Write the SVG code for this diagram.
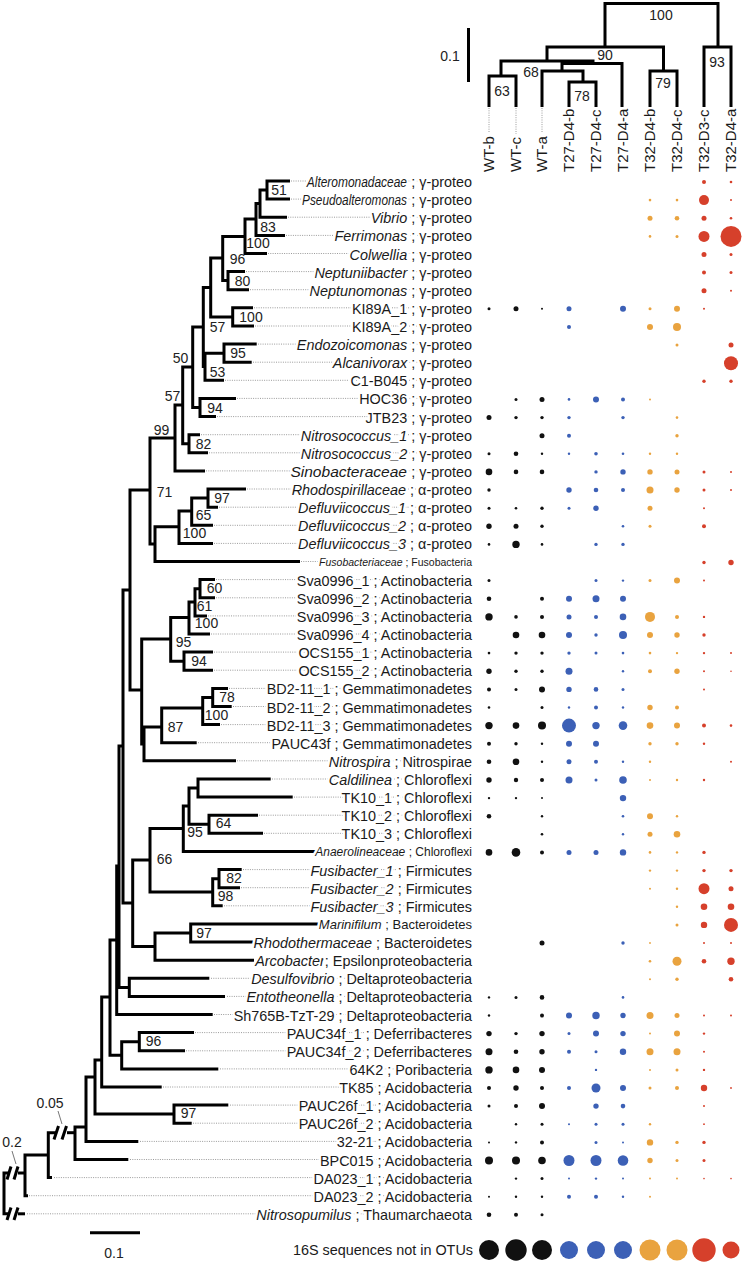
<svg xmlns="http://www.w3.org/2000/svg" width="743" height="1265" viewBox="0 0 743 1265">
<style>
.t{fill:none;stroke:#000;stroke-width:3;stroke-linejoin:miter}
.d{stroke:#9a9a9a;stroke-width:1;stroke-dasharray:1 1.3}
.g{stroke:#777;stroke-width:1}
.lb{font-family:"Liberation Sans",Arial,sans-serif;font-size:14.4px;fill:#1a1a1a;text-anchor:end;stroke:#fff;stroke-width:5;stroke-linejoin:round;paint-order:stroke}
.sm{font-size:12px}
.md{font-size:13px}
.xs{font-size:10.5px}
.i{font-style:italic}
.bs{font-family:"Liberation Sans",Arial,sans-serif;font-size:14px;fill:#222;text-anchor:middle}
.sl{font-family:"Liberation Sans",Arial,sans-serif;font-size:15px;fill:#1a1a1a}
.k{fill:#111}.b{fill:#3c60b6}.o{fill:#e9a33f}.r{fill:#d6402b}
</style>
<rect width="743" height="1265" fill="#fff"/>

<g id="sample-tree">
<path class="t" d="M605,47 V3.5 H718 V47"/>
<path class="t" d="M547,61 V47 H663.5 V71"/>
<path class="t" d="M704,107 V47 H731 V107"/>
<path class="t" d="M650,107 V71 H677 V107"/>
<path class="t" d="M501,76 V61 H593 V63.5"/>
<path class="t" d="M489,107 V76 H516 V107"/>
<path class="t" d="M562,71 V63.5 H622 V107"/>
<path class="t" d="M542,107 V71 H583 V82"/>
<path class="t" d="M569,107 V82 H596 V107"/>
<line class="d" x1="489" y1="108" x2="489" y2="133"/>
<line class="d" x1="516" y1="108" x2="516" y2="134"/>
<line class="d" x1="542" y1="108" x2="542" y2="133"/>
<text class="bs" x="661" y="20">100</text>
<text class="bs" x="605" y="60">90</text>
<text class="bs" x="717" y="67">93</text>
<text class="bs" x="663" y="88">79</text>
<text class="bs" x="502" y="96">63</text>
<text class="bs" x="531" y="77">68</text>
<text class="bs" x="582" y="101">78</text>
<line class="t" x1="468.5" y1="28" x2="468.5" y2="82"/>
<text class="bs" x="450" y="61">0.1</text>
</g>
<g id="samples">
<text class="sl" transform="translate(494,172) rotate(-90)">WT-b</text>
<text class="sl" transform="translate(521,172) rotate(-90)">WT-c</text>
<text class="sl" transform="translate(547,172) rotate(-90)">WT-a</text>
<text class="sl" transform="translate(574,172) rotate(-90)">T27-D4-b</text>
<text class="sl" transform="translate(601,172) rotate(-90)">T27-D4-c</text>
<text class="sl" transform="translate(628,172) rotate(-90)">T27-D4-a</text>
<text class="sl" transform="translate(655,172) rotate(-90)">T32-D4-b</text>
<text class="sl" transform="translate(682,172) rotate(-90)">T32-D4-c</text>
<text class="sl" transform="translate(709,172) rotate(-90)">T32-D3-c</text>
<text class="sl" transform="translate(736,172) rotate(-90)">T32-D4-a</text>
</g>

<g id="connectors">
<path class="t" d="M290,181 H267 V199.1 H290"/>
<path class="t" d="M267,190 H260 V217.2 H287"/>
<path class="t" d="M260,203.5 H256 V235.4 H285"/>
<path class="t" d="M256,219 H245 V253.5 H267"/>
<path class="t" d="M245,236.5 H222.7 V280.6 H228"/>
<path class="t" d="M245,271.6 H228 V289.7 H249"/>
<path class="t" d="M222.7,258 H210.7 V317 H232.7"/>
<path class="t" d="M253,307.8 H232.7 V326 H254"/>
<path class="t" d="M210.7,287.5 H203.3 V366.5 H205"/>
<path class="t" d="M224,353.2 H205 V380.3 H224"/>
<path class="t" d="M256.7,344.1 H224 V362.2 H251.7"/>
<path class="t" d="M203.3,327 H192.7 V407.5 H200"/>
<path class="t" d="M236,398.4 H200 V416.6 H216"/>
<path class="t" d="M192.7,367 H182.7 V443.8 H189"/>
<path class="t" d="M200,434.7 H189 V452.8 H208"/>
<path class="t" d="M182.7,405 H175 V470.9 H205"/>
<path class="t" d="M175,438 H150 V544 H155"/>
<path class="t" d="M179,526.7 H155 V561.5 H300"/>
<path class="t" d="M191.7,511 H179 V543.4 H213"/>
<path class="t" d="M208,498 H191.7 V525.3 H213"/>
<path class="t" d="M246,489 H208 V507.2 H218"/>
<path class="t" d="M150,490 H130 V690 H141.7"/>
<path class="t" d="M170.7,639 H141.7 V744 H144"/>
<path class="t" d="M189,617.5 H170.7 V661.2 H184"/>
<path class="t" d="M195,602 H189 V634 H210"/>
<path class="t" d="M200,588.7 H195 V615.9 H207"/>
<path class="t" d="M215,579.6 H200 V597.8 H215"/>
<path class="t" d="M213,652.1 H184 V670.2 H213"/>
<path class="t" d="M161.7,727 H144 V760.8 H236"/>
<path class="t" d="M202.7,708 H161.7 V742.7 H196.7"/>
<path class="t" d="M212.7,697.5 H202.7 V724.6 H220"/>
<path class="t" d="M228,688.4 H212.7 V706.5 H231.7"/>
<path class="t" d="M183.3,828.5 H150 V892 H212.7"/>
<path class="t" d="M189,806 H183.3 V851.4 H318"/>
<path class="t" d="M198,788 H189 V824.3 H209"/>
<path class="t" d="M270.7,779 H198 V797.1 H292.7"/>
<path class="t" d="M258,815.2 H209 V833.3 H263"/>
<path class="t" d="M219,878.7 H212.7 V905.8 H222.7"/>
<path class="t" d="M241.7,869.6 H219 V887.7 H240"/>
<path class="t" d="M190.7,933 H155 V960.2 H254"/>
<path class="t" d="M334,923.9 H190.7 V942 H254"/>
<path class="t" d="M150,860 H132.7 V946.6 H155"/>
<path class="t" d="M130,590 H123 V903 H132.7"/>
<path class="t" d="M123,746 H119 V987.4 H129.3"/>
<path class="t" d="M209.3,978.3 H129.3 V996.4 H225"/>
<path class="t" d="M119,866 H116.7 V1014.5 H212.7"/>
<path class="t" d="M116.7,940 H110 V1055.3 H121.7"/>
<path class="t" d="M194,1032.6 H139.3 V1050.8 H185"/>
<path class="t" d="M139.3,1041.7 H121.7 V1068.9 H218.3"/>
<path class="t" d="M110,997 H101.7 V1087 H161.7"/>
<path class="t" d="M228.3,1105.1 H174 V1123.2 H191.7"/>
<path class="t" d="M101.7,1060 H95 V1114 H174"/>
<path class="t" d="M95,1077 H86 V1141.4 H138.3"/>
<path class="t" d="M86,1127 H75 V1159.5 H128.3"/>
<path class="t" d="M75,1132.7 H67"/>
<path class="t" d="M56,1132.7 H48.3 V1177.6 H52"/>
<path class="t" d="M54,1139.5 L58.5,1126"/>
<path class="t" d="M62,1139.5 L66.5,1126"/>
<path class="t" d="M48.3,1155 H25 V1195.7 H28"/>
<path class="t" d="M25,1173 H18"/>
<path class="t" d="M8,1173 H4 V1213.8 H8"/>
<path class="t" d="M18,1213.8 H25"/>
<path class="t" d="M7,1179.5 L11,1166.5"/>
<path class="t" d="M14,1179.5 L18,1166.5"/>
<path class="t" d="M7,1220 L11,1207.5"/>
<path class="t" d="M14,1220 L18,1207.5"/>
<line class="g" x1="58" y1="1111" x2="62" y2="1124"/>
<line class="g" x1="12" y1="1151" x2="16" y2="1164"/>
<text class="bs" x="50" y="1108">0.05</text>
<text class="bs" x="12" y="1147">0.2</text>
<line class="t" x1="90" y1="1232.7" x2="140" y2="1232.7"/>
<text class="bs" x="114" y="1258">0.1</text>
</g>

<g id="bootstrap">
<text class="bs" x="279" y="195">51</text>
<text class="bs" x="268" y="232">83</text>
<text class="bs" x="258" y="248">100</text>
<text class="bs" x="237.5" y="264">96</text>
<text class="bs" x="242.5" y="286">80</text>
<text class="bs" x="251" y="322">100</text>
<text class="bs" x="217.5" y="332">57</text>
<text class="bs" x="238" y="358">95</text>
<text class="bs" x="217.5" y="377">53</text>
<text class="bs" x="180.5" y="363">50</text>
<text class="bs" x="215" y="413">94</text>
<text class="bs" x="172.5" y="401">57</text>
<text class="bs" x="203.5" y="449">82</text>
<text class="bs" x="161.5" y="435">99</text>
<text class="bs" x="164.5" y="497">71</text>
<text class="bs" x="222" y="503">97</text>
<text class="bs" x="203.5" y="520">65</text>
<text class="bs" x="194.5" y="538">100</text>
<text class="bs" x="214.5" y="593">60</text>
<text class="bs" x="204.5" y="611">61</text>
<text class="bs" x="206.5" y="628">100</text>
<text class="bs" x="183.5" y="647">95</text>
<text class="bs" x="199" y="666">94</text>
<text class="bs" x="227" y="702">78</text>
<text class="bs" x="216.5" y="720">100</text>
<text class="bs" x="175.5" y="732">87</text>
<text class="bs" x="223.5" y="828">64</text>
<text class="bs" x="195" y="837">95</text>
<text class="bs" x="164.5" y="864">66</text>
<text class="bs" x="234" y="883">82</text>
<text class="bs" x="225.5" y="901">98</text>
<text class="bs" x="204" y="938">97</text>
<text class="bs" x="153.5" y="1046">96</text>
<text class="bs" x="188.5" y="1118">97</text>
</g>

<g id="n0" transform="translate(0,182)"><line class="d" x1="291" x2="470" y1="-1" y2="-1"/><text class="lb i" transform="translate(407,5) scale(0.83,1)">Alteromonadaceae</text><text class="lb" x="472" y="5">; γ-proteo</text><circle class="r" cx="704" r="2"/><circle class="r" cx="731" r="1.3"/></g>
<g id="n1" transform="translate(0,200.1)"><line class="d" x1="291" x2="470" y1="-1" y2="-1"/><text class="lb i" transform="translate(407,5) scale(0.82,1)">Pseudoalteromonas</text><text class="lb" x="472" y="5">; γ-proteo</text><circle class="o" cx="650" r="1.3"/><circle class="o" cx="677" r="1.3"/><circle class="r" cx="704" r="5"/><circle class="r" cx="731" r="1"/></g>
<g id="n2" transform="translate(0,218.2)"><line class="d" x1="288" x2="470" y1="-1" y2="-1"/><text class="lb" x="472" y="5"><tspan class="i">Vibrio</tspan> ; γ-proteo</text><circle class="o" cx="650" r="2.5"/><circle class="o" cx="677" r="2.3"/><circle class="r" cx="704" r="2.5"/><circle class="r" cx="731" r="1.3"/></g>
<g id="n3" transform="translate(0,236.4)"><line class="d" x1="286" x2="470" y1="-1" y2="-1"/><text class="lb" x="472" y="5"><tspan class="i">Ferrimonas</tspan> ; γ-proteo</text><circle class="o" cx="650" r="1.3"/><circle class="o" cx="677" r="1.5"/><circle class="r" cx="704" r="5.5"/><circle class="r" cx="731" r="10.5"/></g>
<g id="n4" transform="translate(0,254.5)"><line class="d" x1="268" x2="470" y1="-1" y2="-1"/><text class="lb" x="472" y="5"><tspan class="i">Colwellia</tspan> ; γ-proteo</text><circle class="r" cx="704" r="2.5"/><circle class="r" cx="731" r="1.5"/></g>
<g id="n5" transform="translate(0,272.6)"><line class="d" x1="246" x2="470" y1="-1" y2="-1"/><text class="lb" x="472" y="5"><tspan class="i">Neptuniibacter</tspan> ; γ-proteo</text><circle class="r" cx="704" r="2"/><circle class="r" cx="731" r="1.5"/></g>
<g id="n6" transform="translate(0,290.7)"><line class="d" x1="250" x2="470" y1="-1" y2="-1"/><text class="lb" x="472" y="5"><tspan class="i">Neptunomonas</tspan> ; γ-proteo</text><circle class="r" cx="704" r="2.5"/><circle class="r" cx="731" r="1"/></g>
<g id="n7" transform="translate(0,308.8)"><line class="d" x1="254" x2="470" y1="-1" y2="-1"/><text class="lb" x="472" y="5">KI89A_1 ; γ-proteo</text><circle class="k" cx="489" r="1.5"/><circle class="k" cx="516" r="2.5"/><circle class="k" cx="542" r="1"/><circle class="b" cx="569" r="2.5"/><circle class="b" cx="623" r="3"/><circle class="o" cx="650" r="1.5"/><circle class="o" cx="677" r="3"/><circle class="r" cx="704" r="1"/></g>
<g id="n8" transform="translate(0,327)"><line class="d" x1="255" x2="470" y1="-1" y2="-1"/><text class="lb" x="472" y="5">KI89A_2 ; γ-proteo</text><circle class="b" cx="569" r="2"/><circle class="o" cx="650" r="3"/><circle class="o" cx="677" r="4"/></g>
<g id="n9" transform="translate(0,345.1)"><line class="d" x1="258" x2="470" y1="-1" y2="-1"/><text class="lb" x="472" y="5"><tspan class="i">Endozoicomonas</tspan> ; γ-proteo</text><circle class="o" cx="677" r="1.5"/><circle class="r" cx="731" r="2.5"/></g>
<g id="n10" transform="translate(0,363.2)"><line class="d" x1="253" x2="470" y1="-1" y2="-1"/><text class="lb" x="472" y="5"><tspan class="i">Alcanivorax</tspan> ; γ-proteo</text><circle class="r" cx="731" r="7"/></g>
<g id="n11" transform="translate(0,381.3)"><line class="d" x1="225" x2="470" y1="-1" y2="-1"/><text class="lb" x="472" y="5">C1-B045 ; γ-proteo</text><circle class="r" cx="704" r="1.7"/><circle class="r" cx="731" r="1.7"/></g>
<g id="n12" transform="translate(0,399.4)"><line class="d" x1="237" x2="470" y1="-1" y2="-1"/><text class="lb" x="472" y="5">HOC36 ; γ-proteo</text><circle class="k" cx="516" r="1.5"/><circle class="k" cx="542" r="2.5"/><circle class="b" cx="569" r="1.3"/><circle class="b" cx="596" r="3"/><circle class="b" cx="623" r="2"/><circle class="o" cx="650" r="1"/></g>
<g id="n13" transform="translate(0,417.6)"><line class="d" x1="217" x2="470" y1="-1" y2="-1"/><text class="lb" x="472" y="5">JTB23 ; γ-proteo</text><circle class="k" cx="489" r="2.5"/><circle class="k" cx="516" r="1.7"/><circle class="k" cx="542" r="1.7"/><circle class="b" cx="569" r="1.7"/><circle class="b" cx="623" r="1.7"/><circle class="o" cx="677" r="1.3"/></g>
<g id="n14" transform="translate(0,435.7)"><line class="d" x1="201" x2="470" y1="-1" y2="-1"/><text class="lb" x="472" y="5"><tspan class="i">Nitrosococcus_1</tspan> ; γ-proteo</text><circle class="k" cx="542" r="2.5"/><circle class="b" cx="569" r="2"/><circle class="o" cx="677" r="1.7"/></g>
<g id="n15" transform="translate(0,453.8)"><line class="d" x1="209" x2="470" y1="-1" y2="-1"/><text class="lb" x="472" y="5"><tspan class="i">Nitrosococcus_2</tspan> ; γ-proteo</text><circle class="k" cx="489" r="1.5"/><circle class="k" cx="516" r="2.3"/><circle class="k" cx="542" r="1.2"/><circle class="b" cx="569" r="1.2"/><circle class="b" cx="596" r="1.8"/><circle class="b" cx="623" r="1.3"/><circle class="o" cx="650" r="1.2"/><circle class="o" cx="677" r="1.2"/></g>
<g id="n16" transform="translate(0,471.9)"><line class="d" x1="206" x2="470" y1="-1" y2="-1"/><text class="lb i" transform="translate(407,5) scale(1.08,1)">Sinobacteraceae</text><text class="lb" x="472" y="5">; γ-proteo</text><circle class="k" cx="489" r="3.3"/><circle class="k" cx="516" r="2.3"/><circle class="k" cx="542" r="2.3"/><circle class="b" cx="596" r="1.7"/><circle class="b" cx="623" r="2.7"/><circle class="o" cx="650" r="2.7"/><circle class="o" cx="677" r="2.5"/><circle class="r" cx="704" r="1.5"/><circle class="r" cx="731" r="1"/></g>
<g id="n17" transform="translate(0,490)"><line class="d" x1="247" x2="470" y1="-1" y2="-1"/><text class="lb" x="472" y="5"><tspan class="i">Rhodospirillaceae</tspan> ; α-proteo</text><circle class="k" cx="489" r="1.7"/><circle class="b" cx="569" r="2.7"/><circle class="b" cx="596" r="2.3"/><circle class="b" cx="623" r="2"/><circle class="o" cx="650" r="3.5"/><circle class="o" cx="677" r="2.7"/><circle class="r" cx="704" r="1.5"/><circle class="r" cx="731" r="1"/></g>
<g id="n18" transform="translate(0,508.2)"><line class="d" x1="219" x2="470" y1="-1" y2="-1"/><text class="lb" x="472" y="5"><tspan class="i">Defluviicoccus_1</tspan> ; α-proteo</text><circle class="k" cx="489" r="1.5"/><circle class="k" cx="516" r="1.3"/><circle class="k" cx="542" r="1.7"/><circle class="b" cx="569" r="1.5"/><circle class="b" cx="596" r="2.7"/><circle class="o" cx="650" r="2.5"/><circle class="r" cx="704" r="1"/></g>
<g id="n19" transform="translate(0,526.3)"><line class="d" x1="214" x2="470" y1="-1" y2="-1"/><text class="lb" x="472" y="5"><tspan class="i">Defluviicoccus_2</tspan> ; α-proteo</text><circle class="k" cx="489" r="2.7"/><circle class="k" cx="516" r="2.5"/><circle class="k" cx="542" r="1.7"/><circle class="b" cx="623" r="1.3"/><circle class="o" cx="650" r="1.5"/><circle class="r" cx="704" r="2"/></g>
<g id="n20" transform="translate(0,544.4)"><line class="d" x1="214" x2="470" y1="-1" y2="-1"/><text class="lb" x="472" y="5"><tspan class="i">Defluviicoccus_3</tspan> ; α-proteo</text><circle class="k" cx="489" r="1.3"/><circle class="k" cx="516" r="3.7"/><circle class="k" cx="542" r="1.3"/><circle class="b" cx="596" r="1.7"/><circle class="b" cx="623" r="1.7"/></g>
<g id="n21" transform="translate(0,562.5)"><line class="d" x1="301" x2="470" y1="-1" y2="-1"/><text class="lb xs" x="472" y="3.5"><tspan class="i">Fusobacteriaceae</tspan> ; Fusobacteria</text><circle class="r" cx="704" r="1.7"/><circle class="r" cx="731" r="2.7"/></g>
<g id="n22" transform="translate(0,580.6)"><line class="d" x1="216" x2="470" y1="-1" y2="-1"/><text class="lb" x="472" y="5">Sva0996_1 ; Actinobacteria</text><circle class="k" cx="489" r="1.5"/><circle class="b" cx="596" r="1.5"/><circle class="b" cx="623" r="1.2"/><circle class="o" cx="650" r="1.5"/><circle class="o" cx="677" r="3"/><circle class="r" cx="704" r="1"/></g>
<g id="n23" transform="translate(0,598.8)"><line class="d" x1="216" x2="470" y1="-1" y2="-1"/><text class="lb" x="472" y="5">Sva0996_2 ; Actinobacteria</text><circle class="k" cx="489" r="2.3"/><circle class="k" cx="542" r="2"/><circle class="b" cx="569" r="3"/><circle class="b" cx="596" r="3.5"/><circle class="b" cx="623" r="3"/></g>
<g id="n24" transform="translate(0,616.9)"><line class="d" x1="208" x2="470" y1="-1" y2="-1"/><text class="lb" x="472" y="5">Sva0996_3 ; Actinobacteria</text><circle class="k" cx="489" r="3.7"/><circle class="k" cx="516" r="1.8"/><circle class="k" cx="542" r="2"/><circle class="b" cx="569" r="2.5"/><circle class="b" cx="596" r="2"/><circle class="b" cx="623" r="3.3"/><circle class="o" cx="650" r="5"/><circle class="o" cx="677" r="2"/><circle class="r" cx="704" r="1.2"/></g>
<g id="n25" transform="translate(0,635)"><line class="d" x1="211" x2="470" y1="-1" y2="-1"/><text class="lb" x="472" y="5">Sva0996_4 ; Actinobacteria</text><circle class="k" cx="516" r="3.3"/><circle class="k" cx="542" r="3.3"/><circle class="b" cx="569" r="3"/><circle class="b" cx="596" r="1.7"/><circle class="b" cx="623" r="4"/><circle class="o" cx="650" r="3"/><circle class="o" cx="677" r="2.7"/><circle class="r" cx="704" r="1.7"/></g>
<g id="n26" transform="translate(0,653.1)"><line class="d" x1="214" x2="470" y1="-1" y2="-1"/><text class="lb" x="472" y="5">OCS155_1 ; Actinobacteria</text><circle class="k" cx="489" r="1.3"/><circle class="k" cx="516" r="1.7"/><circle class="k" cx="542" r="1.7"/><circle class="b" cx="569" r="1.7"/><circle class="b" cx="596" r="1.5"/><circle class="b" cx="623" r="1.3"/><circle class="o" cx="650" r="1.3"/><circle class="o" cx="677" r="1.2"/><circle class="r" cx="704" r="1.2"/><circle class="r" cx="731" r="1"/></g>
<g id="n27" transform="translate(0,671.2)"><line class="d" x1="214" x2="470" y1="-1" y2="-1"/><text class="lb" x="472" y="5">OCS155_2 ; Actinobacteria</text><circle class="k" cx="489" r="2.7"/><circle class="k" cx="516" r="1.7"/><circle class="k" cx="542" r="1.7"/><circle class="b" cx="569" r="3.5"/><circle class="b" cx="623" r="1.2"/><circle class="o" cx="650" r="2"/><circle class="o" cx="677" r="2.7"/><circle class="r" cx="704" r="1"/><circle class="r" cx="731" r="0.8"/></g>
<g id="n28" transform="translate(0,689.4)"><line class="d" x1="229" x2="470" y1="-1" y2="-1"/><text class="lb" x="472" y="5">BD2-11_1 ; Gemmatimonadetes</text><circle class="k" cx="489" r="2"/><circle class="k" cx="516" r="1.5"/><circle class="k" cx="542" r="3"/><circle class="b" cx="569" r="2.7"/><circle class="b" cx="596" r="2.3"/><circle class="b" cx="623" r="1.5"/><circle class="r" cx="704" r="1"/></g>
<g id="n29" transform="translate(0,707.5)"><line class="d" x1="233" x2="470" y1="-1" y2="-1"/><text class="lb" x="472" y="5">BD2-11_2 ; Gemmatimonadetes</text><circle class="k" cx="489" r="1.3"/><circle class="k" cx="542" r="1.5"/><circle class="b" cx="569" r="1.2"/><circle class="b" cx="596" r="2"/><circle class="b" cx="623" r="1.2"/><circle class="o" cx="650" r="2.7"/><circle class="o" cx="677" r="2"/></g>
<g id="n30" transform="translate(0,725.6)"><line class="d" x1="221" x2="470" y1="-1" y2="-1"/><text class="lb" x="472" y="5">BD2-11_3 ; Gemmatimonadetes</text><circle class="k" cx="489" r="3.7"/><circle class="k" cx="516" r="3.3"/><circle class="k" cx="542" r="4"/><circle class="b" cx="569" r="7"/><circle class="b" cx="596" r="3.7"/><circle class="b" cx="623" r="4.3"/><circle class="o" cx="650" r="3.3"/><circle class="o" cx="677" r="3"/><circle class="r" cx="704" r="2"/><circle class="r" cx="731" r="1.3"/></g>
<g id="n31" transform="translate(0,743.7)"><line class="d" x1="198" x2="470" y1="-1" y2="-1"/><text class="lb" x="472" y="5">PAUC43f ; Gemmatimonadetes</text><circle class="k" cx="489" r="2"/><circle class="k" cx="516" r="1.7"/><circle class="k" cx="542" r="1.2"/><circle class="b" cx="569" r="3"/><circle class="b" cx="596" r="3"/><circle class="o" cx="650" r="1.7"/><circle class="o" cx="677" r="1.7"/><circle class="r" cx="704" r="1.2"/></g>
<g id="n32" transform="translate(0,761.8)"><line class="d" x1="237" x2="470" y1="-1" y2="-1"/><text class="lb" x="472" y="5"><tspan class="i">Nitrospira</tspan> ; Nitrospirae</text><circle class="k" cx="489" r="2.3"/><circle class="k" cx="516" r="3.3"/><circle class="k" cx="542" r="1.2"/><circle class="b" cx="569" r="2.5"/><circle class="b" cx="596" r="2"/><circle class="b" cx="623" r="1.2"/><circle class="o" cx="650" r="1.2"/><circle class="r" cx="731" r="1"/></g>
<g id="n33" transform="translate(0,780)"><line class="d" x1="272" x2="470" y1="-1" y2="-1"/><text class="lb" x="472" y="5"><tspan class="i">Caldilinea</tspan> ; Chloroflexi</text><circle class="k" cx="489" r="2.7"/><circle class="k" cx="516" r="2.2"/><circle class="k" cx="542" r="2"/><circle class="b" cx="569" r="3.5"/><circle class="b" cx="596" r="1.5"/><circle class="b" cx="623" r="3.8"/><circle class="o" cx="650" r="1"/><circle class="o" cx="677" r="1.2"/><circle class="r" cx="704" r="1.2"/></g>
<g id="n34" transform="translate(0,798.1)"><line class="d" x1="294" x2="470" y1="-1" y2="-1"/><text class="lb" x="472" y="5">TK10_1 ; Chloroflexi</text><circle class="k" cx="489" r="1.2"/><circle class="k" cx="516" r="1.2"/><circle class="k" cx="542" r="1"/><circle class="b" cx="623" r="3.2"/></g>
<g id="n35" transform="translate(0,816.2)"><line class="d" x1="259" x2="470" y1="-1" y2="-1"/><text class="lb" x="472" y="5">TK10_2 ; Chloroflexi</text><circle class="k" cx="489" r="2.3"/><circle class="k" cx="542" r="1.2"/><circle class="b" cx="623" r="1.3"/><circle class="o" cx="650" r="3"/><circle class="o" cx="677" r="1.2"/></g>
<g id="n36" transform="translate(0,834.3)"><line class="d" x1="264" x2="470" y1="-1" y2="-1"/><text class="lb" x="472" y="5">TK10_3 ; Chloroflexi</text><circle class="k" cx="542" r="1.3"/><circle class="b" cx="623" r="1.2"/><circle class="o" cx="650" r="2.5"/><circle class="o" cx="677" r="3.3"/></g>
<g id="n37" transform="translate(0,852.4)"><text class="lb sm" x="472" y="4"><tspan class="i">Anaerolineaceae</tspan> ; Chloroflexi</text><circle class="k" cx="489" r="3.3"/><circle class="k" cx="516" r="4.3"/><circle class="k" cx="542" r="2"/><circle class="b" cx="569" r="2.5"/><circle class="b" cx="596" r="2.5"/><circle class="b" cx="623" r="3.2"/><circle class="o" cx="650" r="1.3"/><circle class="o" cx="677" r="1.2"/><circle class="r" cx="704" r="1.7"/></g>
<g id="n38" transform="translate(0,870.6)"><line class="d" x1="243" x2="470" y1="-1" y2="-1"/><text class="lb" x="472" y="5"><tspan class="i">Fusibacter_1</tspan> ; Firmicutes</text><circle class="o" cx="650" r="1.2"/><circle class="o" cx="677" r="1.2"/><circle class="r" cx="704" r="1.7"/><circle class="r" cx="731" r="1.7"/></g>
<g id="n39" transform="translate(0,888.7)"><line class="d" x1="241" x2="470" y1="-1" y2="-1"/><text class="lb" x="472" y="5"><tspan class="i">Fusibacter_2</tspan> ; Firmicutes</text><circle class="o" cx="650" r="1"/><circle class="o" cx="677" r="1.2"/><circle class="r" cx="704" r="5.5"/><circle class="r" cx="731" r="2.5"/></g>
<g id="n40" transform="translate(0,906.8)"><line class="d" x1="224" x2="470" y1="-1" y2="-1"/><text class="lb" x="472" y="5"><tspan class="i">Fusibacter_3</tspan> ; Firmicutes</text><circle class="o" cx="677" r="1.2"/><circle class="r" cx="704" r="3.3"/><circle class="r" cx="731" r="3.3"/></g>
<g id="n41" transform="translate(0,924.9)"><text class="lb md" x="472" y="4.5"><tspan class="i">Marinifilum</tspan> ; Bacteroidetes</text><circle class="o" cx="677" r="1.5"/><circle class="r" cx="704" r="3.2"/><circle class="r" cx="731" r="7"/></g>
<g id="n42" transform="translate(0,943)"><text class="lb" x="472" y="5"><tspan class="i">Rhodothermaceae</tspan> ; Bacteroidetes</text><circle class="k" cx="542" r="2.5"/><circle class="b" cx="623" r="1.7"/><circle class="o" cx="650" r="0.9"/><circle class="r" cx="704" r="1"/><circle class="r" cx="731" r="1"/></g>
<g id="n43" transform="translate(0,961.2)"><text class="lb" x="472" y="5"><tspan class="i">Arcobacter</tspan>; Epsilonproteobacteria</text><circle class="o" cx="650" r="1.3"/><circle class="o" cx="677" r="4.5"/><circle class="r" cx="704" r="2.3"/><circle class="r" cx="731" r="3.7"/></g>
<g id="n44" transform="translate(0,979.3)"><line class="d" x1="211" x2="470" y1="-1" y2="-1"/><text class="lb" x="472" y="5"><tspan class="i">Desulfovibrio</tspan> ; Deltaproteobacteria</text><circle class="o" cx="650" r="1"/><circle class="o" cx="677" r="1.7"/><circle class="r" cx="731" r="2.3"/></g>
<g id="n45" transform="translate(0,997.4)"><line class="d" x1="227" x2="470" y1="-1" y2="-1"/><text class="lb" x="472" y="5"><tspan class="i">Entotheonella</tspan> ; Deltaproteobacteria</text><circle class="k" cx="489" r="1.2"/><circle class="k" cx="516" r="1.5"/><circle class="k" cx="542" r="2.3"/><circle class="b" cx="623" r="1.3"/></g>
<g id="n46" transform="translate(0,1015.5)"><line class="d" x1="214" x2="470" y1="-1" y2="-1"/><text class="lb" x="472" y="5">Sh765B-TzT-29 ; Deltaproteobacteria</text><circle class="k" cx="489" r="1.2"/><circle class="k" cx="542" r="2"/><circle class="b" cx="569" r="3"/><circle class="b" cx="596" r="3.7"/><circle class="b" cx="623" r="2.7"/><circle class="o" cx="650" r="3.5"/><circle class="o" cx="677" r="2.5"/><circle class="r" cx="704" r="1"/><circle class="r" cx="731" r="1"/></g>
<g id="n47" transform="translate(0,1033.6)"><line class="d" x1="195" x2="470" y1="-1" y2="-1"/><text class="lb" x="472" y="5">PAUC34f_1 ; Deferribacteres</text><circle class="k" cx="489" r="2.7"/><circle class="k" cx="516" r="1.7"/><circle class="k" cx="542" r="2.7"/><circle class="b" cx="569" r="1.5"/><circle class="b" cx="596" r="3"/><circle class="b" cx="623" r="2.7"/><circle class="o" cx="650" r="1"/><circle class="o" cx="677" r="3"/><circle class="r" cx="704" r="1.2"/></g>
<g id="n48" transform="translate(0,1051.8)"><line class="d" x1="186" x2="470" y1="-1" y2="-1"/><text class="lb" x="472" y="5">PAUC34f_2 ; Deferribacteres</text><circle class="k" cx="489" r="3.5"/><circle class="k" cx="516" r="2.3"/><circle class="k" cx="542" r="2.7"/><circle class="b" cx="569" r="2"/><circle class="b" cx="596" r="1.5"/><circle class="b" cx="623" r="3.2"/><circle class="o" cx="650" r="3.5"/><circle class="o" cx="677" r="3.5"/><circle class="r" cx="704" r="1"/></g>
<g id="n49" transform="translate(0,1069.9)"><line class="d" x1="220" x2="470" y1="-1" y2="-1"/><text class="lb" x="472" y="5">64K2 ; Poribacteria</text><circle class="k" cx="489" r="3.7"/><circle class="k" cx="516" r="3.3"/><circle class="k" cx="542" r="3"/><circle class="b" cx="596" r="1.2"/><circle class="o" cx="650" r="1"/><circle class="o" cx="677" r="1.5"/><circle class="r" cx="704" r="1.2"/></g>
<g id="n50" transform="translate(0,1088)"><line class="d" x1="163" x2="470" y1="-1" y2="-1"/><text class="lb" x="472" y="5">TK85 ; Acidobacteria</text><circle class="k" cx="489" r="2"/><circle class="k" cx="516" r="2.7"/><circle class="k" cx="542" r="2"/><circle class="b" cx="569" r="2"/><circle class="b" cx="596" r="4.5"/><circle class="b" cx="623" r="3"/><circle class="o" cx="650" r="1.5"/><circle class="o" cx="677" r="2"/><circle class="r" cx="704" r="3.2"/><circle class="r" cx="731" r="0.9"/></g>
<g id="n51" transform="translate(0,1106.1)"><line class="d" x1="230" x2="470" y1="-1" y2="-1"/><text class="lb" x="472" y="5">PAUC26f_1 ; Acidobacteria</text><circle class="k" cx="489" r="1.5"/><circle class="k" cx="516" r="2"/><circle class="k" cx="542" r="3"/><circle class="b" cx="596" r="2.7"/><circle class="b" cx="623" r="2.3"/><circle class="r" cx="704" r="1"/></g>
<g id="n52" transform="translate(0,1124.2)"><line class="d" x1="193" x2="470" y1="-1" y2="-1"/><text class="lb" x="472" y="5">PAUC26f_2 ; Acidobacteria</text><circle class="k" cx="516" r="1.2"/><circle class="k" cx="542" r="1.5"/><circle class="b" cx="569" r="1"/><circle class="b" cx="596" r="1.5"/><circle class="b" cx="623" r="1.5"/><circle class="o" cx="650" r="1.2"/><circle class="r" cx="704" r="0.9"/></g>
<g id="n53" transform="translate(0,1142.4)"><line class="d" x1="140" x2="470" y1="-1" y2="-1"/><text class="lb" x="472" y="5">32-21 ; Acidobacteria</text><circle class="k" cx="489" r="1"/><circle class="k" cx="516" r="1.2"/><circle class="k" cx="542" r="2"/><circle class="b" cx="596" r="1.5"/><circle class="b" cx="623" r="1"/><circle class="o" cx="650" r="3.2"/><circle class="o" cx="677" r="1.7"/><circle class="r" cx="704" r="1.7"/></g>
<g id="n54" transform="translate(0,1160.5)"><line class="d" x1="130" x2="470" y1="-1" y2="-1"/><text class="lb" x="472" y="5">BPC015 ; Acidobacteria</text><circle class="k" cx="489" r="4"/><circle class="k" cx="516" r="4"/><circle class="k" cx="542" r="3.8"/><circle class="b" cx="569" r="5.5"/><circle class="b" cx="596" r="5.5"/><circle class="b" cx="623" r="5.3"/><circle class="o" cx="650" r="2.7"/><circle class="o" cx="677" r="1.5"/><circle class="r" cx="704" r="1.5"/></g>
<g id="n55" transform="translate(0,1178.6)"><line class="d" x1="54" x2="470" y1="-1" y2="-1"/><text class="lb" x="472" y="5">DA023_1 ; Acidobacteria</text><circle class="k" cx="516" r="1.2"/><circle class="k" cx="542" r="1.5"/><circle class="b" cx="569" r="1"/><circle class="b" cx="596" r="1.2"/><circle class="b" cx="623" r="1"/><circle class="o" cx="650" r="1"/><circle class="o" cx="677" r="1"/><circle class="r" cx="704" r="0.8"/><circle class="r" cx="731" r="0.8"/></g>
<g id="n56" transform="translate(0,1196.7)"><line class="d" x1="29" x2="470" y1="-1" y2="-1"/><text class="lb" x="472" y="5">DA023_2 ; Acidobacteria</text><circle class="k" cx="489" r="1"/><circle class="k" cx="516" r="1.2"/><circle class="k" cx="542" r="1.2"/><circle class="b" cx="569" r="2"/><circle class="b" cx="596" r="2"/><circle class="b" cx="623" r="1.2"/><circle class="o" cx="650" r="1"/></g>
<g id="n57" transform="translate(0,1214.8)"><line class="d" x1="27" x2="470" y1="-1" y2="-1"/><text class="lb" x="472" y="5"><tspan class="i">Nitrosopumilus</tspan> ; Thaumarchaeota</text><circle class="k" cx="489" r="2.3"/><circle class="k" cx="516" r="2"/><circle class="k" cx="542" r="1.5"/></g>
<g id="legend" transform="translate(0,1250)"><text class="lb" x="473" y="5">16S sequences not in OTUs</text><circle class="k" cx="489" r="10"/><circle class="k" cx="516" r="10.7"/><circle class="k" cx="542" r="10"/><circle class="b" cx="569" r="9"/><circle class="b" cx="596" r="9"/><circle class="b" cx="623" r="9"/><circle class="o" cx="650" r="10.5"/><circle class="o" cx="677" r="10.5"/><circle class="r" cx="704" r="11.7"/><circle class="r" cx="731" r="8.5"/></g>
</svg>
